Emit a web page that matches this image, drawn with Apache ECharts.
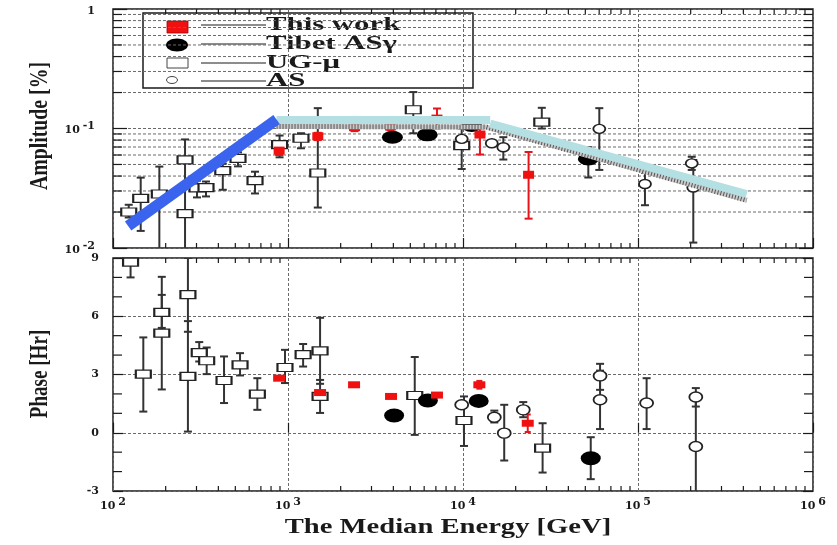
<!DOCTYPE html>
<html>
<head>
<meta charset="utf-8">
<script src="https://cdn.jsdelivr.net/npm/echarts@6/dist/echarts.min.js"></script>
<style>
  html, body { margin: 0; padding: 0; background: #fff; }
  #chart { width: 837px; height: 545px; }
</style>
</head>
<body>
<div id="chart"></div>
<script>
// ---- Amplitude panel: [median energy (GeV), amplitude (%), lower, upper] ----
const thisWorkAmp = [
  [890, 0.0653, 0.060, 0.071],
  [1480, 0.0861, 0.080, 0.092],
  [2400, 0.1026, 0.095, 0.110],
  [3850, 0.104, 0.097, 0.110],
  [7100, 0.121, 0.100, 0.147],
  [12500, 0.089, 0.0606, 0.100],
  [23700, 0.041, 0.0176, 0.0636]
];
const tibetAmp = [
  [3950, 0.0845],
  [6250, 0.0885],
  [11200, 0.106],
  [52000, 0.0556, 0.0389, 0.0697]
];
const ugMuAmp = [
  [123, 0.020, 0.018, 0.023],
  [144, 0.026, 0.0139, 0.0388],
  [184, 0.0283, 0.005, 0.048],
  [258, 0.0546, 0.034, 0.081],
  [258, 0.0194, 0.005, 0.034],
  [302, 0.0319, 0.0265, 0.0366],
  [340, 0.032, 0.027, 0.036],
  [424, 0.0444, 0.0307, 0.0508],
  [518, 0.0563, 0.0482, 0.0632],
  [648, 0.0366, 0.0286, 0.0435],
  [895, 0.0734, 0.0574, 0.0873],
  [1186, 0.0829, 0.0683, 0.0913],
  [1480, 0.0424, 0.0218, 0.148],
  [5200, 0.1436, 0.0913, 0.2018],
  [9830, 0.072, 0.0458, 0.100],
  [28200, 0.113, 0.100, 0.149]
];
const asAmp = [
  [9830, 0.0819],
  [14600, 0.0753],
  [17000, 0.0697, 0.055, 0.0846],
  [60100, 0.0993, 0.045, 0.148],
  [109600, 0.0343, 0.0228, 0.0425],
  [202800, 0.0511, 0.045, 0.058],
  [207000, 0.0321, 0.0111, 0.0545]
];

// Fitted amplitude spectrum (rise, plateau, fall)
const risingFit = [[122, 0.0153], [860, 0.119]];
const plateauFit = [[860, 0.118], [14300, 0.118]];
const fallingFit = [[14300, 0.110], [418000, 0.0283]];
const hatchFit = [[860, 0.104], [13500, 0.103], [418000, 0.0251]];

// ---- Phase panel: [median energy (GeV), phase (hr), lower, upper] ----
const thisWorkPhase = [
  [890, 2.81], [1525, 2.07], [2385, 2.47], [3880, 1.87], [7100, 1.94],
  [12400, 2.47, 2.27, 2.67], [23440, 0.49, 0.04, 0.94]
];
const tibetPhase = [
  [4040, 0.89], [6300, 1.66], [12300, 1.64], [53700, -1.31, -2.39, -0.23]
];
const ugMuPhase = [
  [126, 8.79, 8.0, 9.6],
  [149, 3.02, 1.09, 4.91],
  [190, 6.2, 5.4, 7.1],
  [190, 5.13, 2.23, 8.03],
  [268, 7.11, 5.2, 9.0],
  [268, 2.9, 0.06, 5.75],
  [311, 4.13, 3.67, 4.67],
  [343, 3.71, 3.02, 4.39],
  [431, 2.69, 1.53, 3.93],
  [532, 3.5, 2.95, 4.1],
  [668, 1.99, 1.18, 2.81],
  [961, 3.36, 2.56, 4.27],
  [1220, 4.02, 3.41, 4.57],
  [1525, 4.22, 2.52, 5.92],
  [1525, 1.87, 1.02, 2.72],
  [5300, 1.92, -0.11, 3.9],
  [10130, 0.63, -0.68, 1.87],
  [28500, -0.79, -2.05, 0.49]
];
const asPhase = [
  [9830, 1.44],
  [15100, 0.8, 0.53, 1.14],
  [17200, -0.02, -1.43, 1.44],
  [22100, 1.18, 0.8, 1.58],
  [60700, 2.93, 2.21, 3.55],
  [60700, 1.70, 0.19, 3.2],
  [112000, 1.53, 0.19, 2.81],
  [214000, 1.84, 1.35, 2.3],
  [214000, -0.71, -3.5, 1.9]
];

// Minor tick / grid values for the log axes
const energyMinor = [];
[100, 1000, 10000, 100000].forEach(d => { for (let k = 2; k <= 9; k++) energyMinor.push(d * k); });
const ampMinor = [];
[0.01, 0.1].forEach(d => { for (let k = 2; k <= 9; k++) ampMinor.push(d * k); });

const legendNames = ['This work', 'Tibet AS\u03b3', 'UG-\u03bc', 'AS'];
const titleX = 'The Median Energy [GeV]';
const titleAmp = 'Amplitude [%]';
const titlePhase = 'Phase [Hr]';

// ---------------------------------------------------------------
const SERIF = '"Liberation Serif", "Times New Roman", serif';
const TICKFONT = '"DejaVu Serif", "Liberation Serif", serif';
const INK = '#1a1a1a';
const ELLIPSE = 'path://M0,10 A10,10 0 1,1 20,10 A10,10 0 1,1 0,10 Z';

const powRich = {
  b: { fontFamily: TICKFONT, fontWeight: 'bold', fontSize: 11, color: INK, lineHeight: 15, verticalAlign: 'bottom' },
  e: { fontFamily: TICKFONT, fontWeight: 'bold', fontSize: 11, color: INK, lineHeight: 10, verticalAlign: 'top', padding: [0, 0, 0, 3] }
};
function powLabel(v) {
  const p = Math.round(Math.log10(v));
  if (p === 0) return '{b|1}';
  return '{b|10}{e|' + p + '}';
}

function errorBars(xi, yi, rows, color, cap, z) {
  return {
    type: 'custom', xAxisIndex: xi, yAxisIndex: yi, silent: true, z: z || 2, clip: true,
    data: rows.filter(r => r.length > 2).map(r => [r[0], r[2], r[3]]),
    encode: { x: 0, y: [1, 2] },
    renderItem(params, api) {
      const lo = api.coord([api.value(0), api.value(1)]);
      const hi = api.coord([api.value(0), api.value(2)]);
      const style = { stroke: color, lineWidth: 2 };
      return {
        type: 'group', children: [
          { type: 'line', shape: { x1: lo[0], y1: lo[1], x2: hi[0], y2: hi[1] }, style },
          { type: 'line', shape: { x1: lo[0] - cap, y1: lo[1], x2: lo[0] + cap, y2: lo[1] }, style },
          { type: 'line', shape: { x1: hi[0] - cap, y1: hi[1], x2: hi[0] + cap, y2: hi[1] }, style }
        ]
      };
    }
  };
}

function points(xi, yi, rows, symbol, size, fill, stroke, z) {
  return {
    type: 'scatter', xAxisIndex: xi, yAxisIndex: yi, silent: true, z: z || 3,
    symbol, symbolSize: size, symbolKeepAspect: false,
    data: rows.map(r => [r[0], r[1]]),
    itemStyle: { color: fill, borderColor: stroke, borderWidth: stroke ? 1.6 : 0, opacity: 1 }
  };
}

function fitLine(rows, color, width, dash, z) {
  return {
    type: 'line', xAxisIndex: 0, yAxisIndex: 0, silent: true, z,
    data: rows, showSymbol: false, symbol: 'none',
    lineStyle: { color, width, type: dash || 'solid', cap: 'butt', opacity: 1 }
  };
}

// Minor grid lines and ticks drawn through the axis scales
function frameDecor(xi, yi, yMin, yMax, yMinorVals, dashedMinor) {
  return {
    type: 'custom', xAxisIndex: xi, yAxisIndex: yi, silent: true, z: 1, clip: false,
    data: [[1000, yMin]],
    renderItem(params, api) {
      const L = api.coord([100, yMax])[0], R = api.coord([1e6, yMax])[0];
      const T = api.coord([100, yMax])[1], B = api.coord([100, yMin])[1];
      const tick = { stroke: INK, lineWidth: 1.2 };
      const dash = { stroke: '#6a6a6a', lineWidth: 1, lineDash: [3, 2] };
      const kids = [];
      yMinorVals.forEach(v => {
        const y = api.coord([100, v])[1];
        if (dashedMinor) kids.push({ type: 'line', shape: { x1: L, y1: y, x2: R, y2: y }, style: dash });
        kids.push({ type: 'line', shape: { x1: L, y1: y, x2: L + 9, y2: y }, style: tick });
        kids.push({ type: 'line', shape: { x1: R - 9, y1: y, x2: R, y2: y }, style: tick });
      });
      energyMinor.forEach(v => {
        const x = api.coord([v, yMax])[0];
        kids.push({ type: 'line', shape: { x1: x, y1: B, x2: x, y2: B - 5 }, style: tick });
        kids.push({ type: 'line', shape: { x1: x, y1: T, x2: x, y2: T + 5 }, style: tick });
      });
      return { type: 'group', children: kids };
    }
  };
}

const phaseMinor = [];
for (let p = -3; p <= 9; p += 1) if (p % 3 !== 0) phaseMinor.push(p);

const chart = echarts.init(document.getElementById('chart'), null, { renderer: 'canvas' });

const splitDash = { show: true, lineStyle: { color: '#6a6a6a', width: 1, type: [3, 2] } };

const option = {
  backgroundColor: '#fff',
  animation: false,
  grid: [
    { left: 113, top: 9, width: 700, height: 239, show: true, borderColor: INK, borderWidth: 1.5, backgroundColor: 'transparent' },
    { left: 113, top: 258, width: 700, height: 233, show: true, borderColor: INK, borderWidth: 1.5, backgroundColor: 'transparent' }
  ],
  xAxis: [
    {
      gridIndex: 0, type: 'log', logBase: 10, min: 100, max: 1e6,
      axisLine: { show: false }, axisLabel: { show: false },
      axisTick: { show: true, inside: true, length: 10, lineStyle: { color: INK, width: 1.2 } },
      splitLine: splitDash
    },
    {
      gridIndex: 1, type: 'log', logBase: 10, min: 100, max: 1e6,
      axisLine: { show: false },
      axisTick: { show: true, inside: true, length: 10, lineStyle: { color: INK, width: 1.2 } },
      axisLabel: { show: true, margin: 6, formatter: powLabel, rich: powRich },
      splitLine: splitDash
    }
  ],
  yAxis: [
    {
      gridIndex: 0, type: 'log', logBase: 10, min: 0.01, max: 1,
      axisLine: { show: false },
      axisTick: { show: true, inside: true, length: 14, lineStyle: { color: INK, width: 1.2 } },
      axisLabel: { show: true, margin: 18, formatter: powLabel, rich: powRich },
      splitLine: splitDash
    },
    {
      gridIndex: 0, type: 'log', logBase: 10, min: 0.01, max: 1, position: 'right',
      axisLine: { show: false }, axisLabel: { show: false }, splitLine: { show: false },
      axisTick: { show: true, inside: true, length: 14, lineStyle: { color: INK, width: 1.2 } }
    },
    {
      gridIndex: 1, type: 'value', min: -3, max: 9, interval: 3,
      axisLine: { show: false },
      axisTick: { show: true, inside: true, length: 10, lineStyle: { color: INK, width: 1.2 } },
      axisLabel: { show: true, margin: 14, fontFamily: TICKFONT, fontWeight: 'bold', fontSize: 11, color: INK },
      splitLine: splitDash
    },
    {
      gridIndex: 1, type: 'value', min: -3, max: 9, interval: 3, position: 'right',
      axisLine: { show: false }, axisLabel: { show: false }, splitLine: { show: false },
      axisTick: { show: true, inside: true, length: 10, lineStyle: { color: INK, width: 1.2 } }
    }
  ],
  series: [
    frameDecor(0, 0, 0.01, 1, ampMinor, true),
    frameDecor(1, 2, -3, 9, phaseMinor, false),

    // amplitude panel
    errorBars(0, 0, ugMuAmp, '#333', 4),
    errorBars(0, 0, asAmp, '#333', 4),
    errorBars(0, 0, tibetAmp, '#333', 4),
    errorBars(0, 0, thisWorkAmp, '#e8141b', 4),
    points(0, 0, ugMuAmp, 'rect', [15, 8], '#fff', '#222'),
    points(0, 0, asAmp, ELLIPSE, [12, 9], '#fff', '#222'),
    points(0, 0, tibetAmp, ELLIPSE, [21, 13], '#000', null),
    points(0, 0, thisWorkAmp, 'rect', [11, 8], '#f01010', null),
    fitLine(hatchFit, '#c9c9c9', 5, 'solid', 5),
    fitLine(hatchFit, '#555', 5, [1, 2], 6),
    fitLine(plateauFit, '#b4dfe3', 8, 'solid', 7),
    fitLine(fallingFit, '#b4dfe3', 8, 'solid', 7),
    fitLine(risingFit, '#3a63ee', 11, 'solid', 8),

    // phase panel
    errorBars(1, 2, ugMuPhase, '#333', 4),
    errorBars(1, 2, asPhase, '#333', 4),
    errorBars(1, 2, tibetPhase, '#333', 4),
    errorBars(1, 2, thisWorkPhase, '#e8141b', 3),
    points(1, 2, ugMuPhase, 'rect', [15, 8], '#fff', '#222'),
    points(1, 2, asPhase, ELLIPSE, [13, 10], '#fff', '#222'),
    points(1, 2, tibetPhase, ELLIPSE, [20, 14], '#000', null),
    points(1, 2, thisWorkPhase, 'rect', [12, 7], '#f01010', null)
  ],
  graphic: [
    // legend box
    {
      type: 'group', z: 100, children: [
        { type: 'rect', shape: { x: 143, y: 13, width: 330, height: 75 }, style: { fill: '#fff', stroke: INK, lineWidth: 1.5 } },
        { type: 'rect', shape: { x: 167, y: 21, width: 21, height: 12 }, style: { fill: '#f01010', stroke: '#a00', lineWidth: 0.8 } },
        { type: 'ellipse', shape: { cx: 177, cy: 45, rx: 11, ry: 6.5 }, style: { fill: '#000' } },
        { type: 'rect', shape: { x: 167, y: 58, width: 21, height: 10 }, style: { fill: '#fff', stroke: '#444', lineWidth: 1 } },
        { type: 'ellipse', shape: { cx: 172, cy: 80, rx: 5.5, ry: 3.5 }, style: { fill: '#fff', stroke: '#444', lineWidth: 1 } },
        { type: 'line', shape: { x1: 201, y1: 25, x2: 266, y2: 25 }, style: { stroke: INK, lineWidth: 1.2 } },
        { type: 'line', shape: { x1: 201, y1: 44, x2: 266, y2: 44 }, style: { stroke: INK, lineWidth: 1.2 } },
        { type: 'line', shape: { x1: 201, y1: 63, x2: 266, y2: 63 }, style: { stroke: INK, lineWidth: 1.2 } },
        { type: 'line', shape: { x1: 201, y1: 81, x2: 266, y2: 81 }, style: { stroke: INK, lineWidth: 1.2 } },
        { type: 'text', x: 266, y: 25, scaleX: 1.62, style: { text: legendNames[0], x: 0, y: 0, fill: INK, font: 'bold 19px ' + SERIF, textAlign: 'left', textVerticalAlign: 'middle' } },
        { type: 'text', x: 266, y: 44, scaleX: 1.62, style: { text: legendNames[1], x: 0, y: 0, fill: INK, font: 'bold 19px ' + SERIF, textAlign: 'left', textVerticalAlign: 'middle' } },
        { type: 'text', x: 266, y: 63, scaleX: 1.62, style: { text: legendNames[2], x: 0, y: 0, fill: INK, font: 'bold 19px ' + SERIF, textAlign: 'left', textVerticalAlign: 'middle' } },
        { type: 'text', x: 266, y: 81, scaleX: 1.62, style: { text: legendNames[3], x: 0, y: 0, fill: INK, font: 'bold 19px ' + SERIF, textAlign: 'left', textVerticalAlign: 'middle' } }
      ]
    },
    // axis titles
    { type: 'text', x: 448, y: 528, scaleX: 1.43, z: 100, style: { text: titleX, x: 0, y: 0, fill: INK, font: 'bold 20px ' + SERIF, textAlign: 'center', textVerticalAlign: 'middle' } },
    { type: 'text', x: 40, y: 126, rotation: Math.PI / 2, scaleX: 1.1, scaleY: 1.45, z: 100, style: { text: titleAmp, x: 0, y: 0, fill: INK, font: 'bold 18px ' + SERIF, textAlign: 'center', textVerticalAlign: 'middle' } },
    { type: 'text', x: 40, y: 374, rotation: Math.PI / 2, scaleX: 1.06, scaleY: 1.45, z: 100, style: { text: titlePhase, x: 0, y: 0, fill: INK, font: 'bold 18px ' + SERIF, textAlign: 'center', textVerticalAlign: 'middle' } }
  ]
};

chart.setOption(option);
</script>
</body>
</html>
